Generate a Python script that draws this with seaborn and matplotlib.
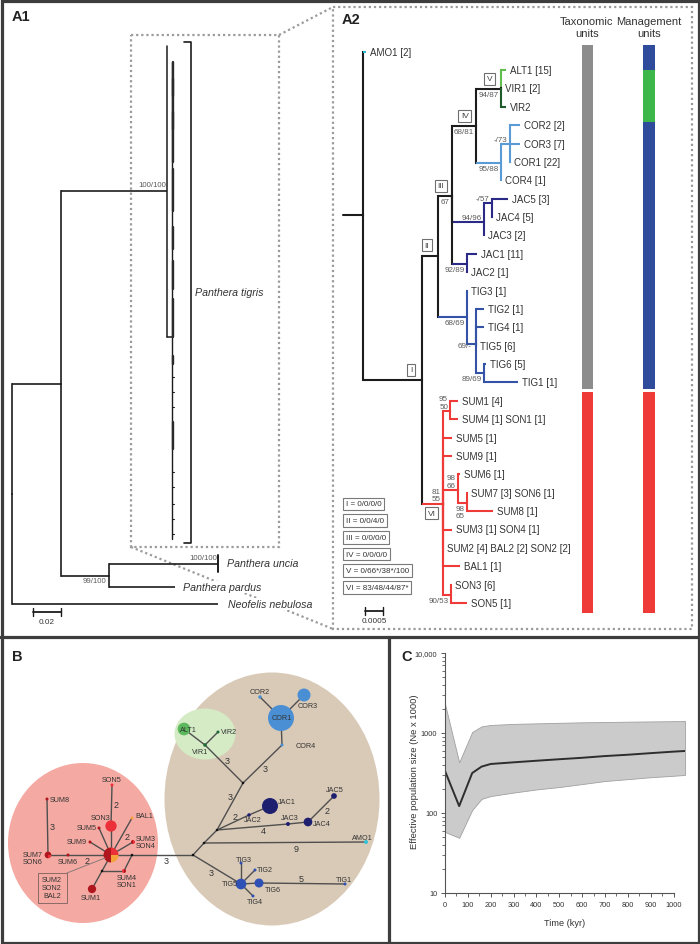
"""Tiger phylogeny figure: trees (A1, A2), haplotype network (B), Bayesian skyline (C)."""

import matplotlib

matplotlib.use("Agg")
import matplotlib.pyplot as plt
from matplotlib.patches import Circle, Ellipse, Rectangle, Wedge
from matplotlib.ticker import FixedLocator, FuncFormatter, LogLocator, NullFormatter
import pandas as pd
import seaborn as sns

W, H = 700, 945
sns.set_theme(style="ticks")
plt.rcParams["font.family"] = ["Liberation Sans", "DejaVu Sans"]

INK = "#1c1c1c"
TXT = "#333333"
SUPP = "#5a5a5a"
FRAME = "#3d3d3d"
DOT = "#9b9b9b"

# ---------------- A1: Panthera + outgroup (depth in subs/site, row = layout px) ----------------
a1_node = ["root", "panthera", "tigris", "unc_par", "uncia", "pardus", "nebulosa"]
a1_parent = [None, "root", "panthera", "panthera", "unc_par", "unc_par", "root"]
a1_depth = [0.0, 0.035, 0.1107, 0.0693, 0.147, 0.1164, 0.147]
a1_row = [495, 385, 192, 577, 565, 588, 605]
a1_species = ["Panthera tigris", "Panthera uncia", "Panthera pardus", "Neofelis nebulosa"]
a1_support = ["100/100", "100/100", "99/100"]
# collapsed tiger clade: short terminal pieces
tig_thick_y0 = [63, 80, 113, 170, 228, 262, 300, 357, 423]
tig_thick_y1 = [97, 130, 163, 212, 250, 290, 338, 365, 450]
tig_tick_y = [378, 393, 408, 473, 488, 505, 520, 535]

# ---------------- A2: tiger mtDNA haplotype tree (depth in 1e-4 subs/site, row = leaf order) ----------------
a2_node = ["root", "AMO1", "I", "II", "III", "IV", "V", "ALT1", "VIR1", "VIR2",
           "CORn", "COR123", "COR2", "COR3", "COR1", "COR4",
           "JAC345", "JAC54", "JAC5", "JAC4", "JAC3", "JAC12", "JAC1", "JAC2",
           "TIGn", "TIG3", "TIGs", "TIG2", "TIG4", "TIG5", "TIG61", "TIG6", "TIG1",
           "VI", "SUM14", "SUM1", "SUM4", "SUM5", "SUM9", "SUM678", "SUM6", "SUM78", "SUM7", "SUM8",
           "SUM3", "SUM2", "BAL1", "SON35", "SON3", "SON5"]
a2_parent = [None, "root", "root", "I", "II", "III", "IV", "V", "V", "V",
             "IV", "CORn", "COR123", "COR123", "COR123", "CORn",
             "III", "JAC345", "JAC54", "JAC54", "JAC345", "III", "JAC12", "JAC12",
             "II", "TIGn", "TIGn", "TIGs", "TIGs", "TIGs", "TIGs", "TIG61", "TIG61",
             "I", "VI", "SUM14", "SUM14", "VI", "VI", "VI", "SUM678", "SUM678", "SUM78", "SUM78",
             "VI", "VI", "VI", "VI", "SON35", "SON35"]
a2_depth = [0.0, 0.8, 16.4, 20.8, 24.7, 31.4, 38.3, 39.7, 38.3, 39.7,
            38.3, 40.8, 43.6, 43.6, 40.8, 38.3,
            33.6, 35.8, 40.3, 35.8, 33.6, 28.9, 31.7, 28.9,
            28.9, 28.9, 31.4, 33.6, 33.6, 31.4, 33.6, 34.2, 43.1,
            22.2, 24.2, 26.4, 26.4, 24.7, 24.7, 26.4, 26.9, 28.9, 28.9, 36.1,
            24.7, 22.2, 26.9, 24.4, 24.4, 28.9]
a2_row = [7.9, -1, 16.87, 10.1, 6.86, 3.05, 1.03, 0, 1, 2,
          5.06, 4.03, 3, 4, 5, 6,
          8.27, 7.24, 7, 8, 9, 10.55, 10, 11,
          13.44, 12, 14.9, 13, 14, 15, 16.49, 16, 17,
          23.6, 18.55, 18, 19, 20, 21, 22.85, 22, 23.56, 23, 24,
          25, 26, 27, 28.56, 28, 29]
a2_clade = ["bb", "AMO", "bb", "bb", "bb", "bb", "bb", "ALT", "VIR", "VIR",
            "COR", "COR", "COR", "COR", "COR", "COR",
            "JAC", "JAC", "JAC", "JAC", "JAC", "JAC", "JAC", "JAC",
            "TIG", "TIG", "TIG", "TIG", "TIG", "TIG", "TIG", "TIG", "TIG",
            "SUM", "SUM", "SUM", "SUM", "SUM", "SUM", "SUM", "SUM", "SUM", "SUM", "SUM",
            "SUM", "SUM", "SUM", "SUM", "SUM", "SUM"]
a2_tip = ["AMO1", "ALT1", "VIR1", "VIR2", "COR2", "COR3", "COR1", "COR4", "JAC5", "JAC4", "JAC3",
          "JAC1", "JAC2", "TIG3", "TIG2", "TIG4", "TIG5", "TIG6", "TIG1", "SUM1", "SUM4", "SUM5",
          "SUM9", "SUM6", "SUM7", "SUM8", "SUM3", "SUM2", "BAL1", "SON3", "SON5"]
a2_tip_text = ["AMO1 [2]", "ALT1 [15]", "VIR1 [2]", "VIR2", "COR2 [2]", "COR3 [7]", "COR1 [22]",
               "COR4 [1]", "JAC5 [3]", "JAC4 [5]", "JAC3 [2]", "JAC1 [11]", "JAC2 [1]", "TIG3 [1]",
               "TIG2 [1]", "TIG4 [1]", "TIG5 [6]", "TIG6 [5]", "TIG1 [1]", "SUM1 [4]",
               "SUM4 [1] SON1 [1]", "SUM5 [1]", "SUM9 [1]", "SUM6 [1]", "SUM7 [3] SON6 [1]",
               "SUM8 [1]", "SUM3 [1] SON4 [1]", "SUM2 [4] BAL2 [2] SON2 [2]", "BAL1 [1]",
               "SON3 [6]", "SON5 [1]"]
a2_supp_node = ["V", "IV", "CORn", "COR123", "III", "JAC345", "JAC54", "JAC12", "TIGn", "TIGs",
                "TIG61", "SUM14", "SUM678", "SUM78", "VI", "SON35"]
a2_supp_text = ["94/87", "68/81", "95/88", "-/73", "67", "94/96", "-/57", "92/89", "68/69", "69/-",
                "89/69", "95\n50", "98\n66", "98\n65", "81\n55", "90/53"]
a2_supp_side = ["below", "below", "below", "above", "below", "above", "above", "below", "below", "mid",
                "below", "above", "above", "below", "above", "below"]
a2_box_node = ["I", "II", "III", "IV", "V", "VI"]
a2_legend = ["I = 0/0/0/0", "II = 0/0/4/0", "III = 0/0/0/0", "IV = 0/0/0/0",
             "V = 0/66*/38*/100", "VI = 83/48/44/87*"]

tax_unit_start = [-1.36, 17.52]
tax_unit_end = [17.36, 29.54]
tax_unit_color = ["#8c8c8c", "#ee3b37"]
mgmt_unit_start = [-1.36, 0.0, 2.83, 17.52]
mgmt_unit_end = [0.0, 2.83, 17.36, 29.54]
mgmt_unit_color = ["#2e4b9c", "#3db64a", "#2e4b9c", "#ee3b37"]

CLADE_COL = {"bb": INK, "AMO": "#2ab7d3", "ALT": "#62bd4f", "VIR": "#1f5a2c",
             "COR": "#5b9bd5", "JAC": "#2b2a86", "TIG": "#3553a6", "SUM": "#ee3b37"}

# ---------------- B: median-joining haplotype network (layout px) ----------------
net_name = ["hub", "SON5", "SON3", "BAL1", "SUM5", "SUM9", "SUM3/SON4", "SUM6", "SUM7/SON6", "SUM8",
            "m1", "SUM4/SON1", "m2", "SUM1", "N0", "N1", "AMO1", "N2", "JAC2", "JAC1", "JAC3", "JAC4",
            "JAC5", "N3", "VIR1", "ALT1", "VIR2", "COR4", "COR1", "COR2", "COR3",
            "TIG5", "TIG3", "TIG2", "TIG4", "TIG6", "TIG1"]
net_x = [111, 112, 111, 132, 99, 90, 133, 68, 48, 47, 132, 124, 102, 92, 193, 204, 366, 217, 249, 270,
         288, 308, 334, 243, 205, 184, 218, 282, 281, 260, 304, 241, 241, 255, 253, 259, 345]
net_y = [856, 786, 827, 819, 829, 843, 843, 856, 856, 800, 856, 872, 872, 890, 856, 844, 843, 831, 816,
         807, 825, 823, 797, 784, 746, 730, 733, 746, 719, 698, 696, 885, 864, 871, 897, 884, 885]
net_diam = [15, 3, 11.3, 3, 3, 3, 4, 3, 6.7, 3, 2.5, 4, 2.5, 8.3, 2.5, 2.5, 4, 2.5, 3.5, 16, 4, 8.7,
            5.7, 2.5, 3.5, 12.7, 3, 3, 26, 3.5, 13, 10.7, 3, 3, 3, 9, 3]
net_mix = [[("SUM", 4), ("SON", 2), ("BAL", 2)], [("SON", 1)], [("SON", 6)], [("BAL", 1)],
           [("SUM", 1)], [("SUM", 1)], [("SUM", 1), ("SON", 1)], [("SUM", 1)],
           [("SUM", 3), ("SON", 1)], [("SUM", 1)], [("med", 1)], [("SON", 1), ("SUM", 1)],
           [("med", 1)], [("SUM", 4)], [("med", 1)], [("med", 1)], [("AMO", 2)], [("med", 1)],
           [("JAC", 1)], [("JAC", 11)], [("JAC", 2)], [("JAC", 5)], [("JAC", 3)], [("med", 1)],
           [("VIR", 2)], [("ALT", 15)], [("VIR", 1)], [("COR", 1)], [("COR", 22)], [("COR", 2)],
           [("COR", 7)], [("TIG", 6)], [("TIG", 1)], [("TIG", 1)], [("TIG", 1)], [("TIG", 5)],
           [("TIG", 1)]]
net_edge_a = ["SON5", "SON3", "BAL1", "SUM5", "SUM9", "SUM3/SON4", "SUM6", "SUM7/SON6", "SUM8", "hub",
              "m1", "SUM4/SON1", "m2", "m2", "m1", "N0", "N1", "N1", "N2", "JAC2", "N2", "JAC3",
              "JAC4", "N2", "N3", "VIR1", "VIR1", "N3", "COR4", "COR1", "COR1",
              "N0", "TIG5", "TIG5", "TIG5", "TIG5", "TIG6"]
net_edge_b = ["SON3", "hub", "hub", "hub", "hub", "hub", "hub", "SUM6", "SUM7/SON6", "m1",
              "SUM4/SON1", "m2", "hub", "SUM1", "N0", "N1", "AMO1", "N2", "JAC2", "JAC1", "JAC3", "JAC4",
              "JAC5", "N3", "VIR1", "ALT1", "VIR2", "COR4", "COR1", "COR2", "COR3",
              "TIG5", "TIG3", "TIG2", "TIG4", "TIG6", "TIG1"]
net_step = ["2", "", "2", "", "", "", "2", "", "3", "", "", "", "", "", "3", "", "9", "", "2", "",
            "4", "", "2", "3", "3", "", "", "3", "", "", "", "3", "", "", "", "", "5"]
net_step_x = [116, 0, 127, 0, 0, 0, 87, 0, 52, 0, 0, 0, 0, 0, 166, 0, 296, 0, 235, 0, 263, 0, 327,
              230, 227, 0, 0, 265, 0, 0, 0, 211, 0, 0, 0, 0, 301]
net_step_y = [806, 0, 837, 0, 0, 0, 862, 0, 827, 0, 0, 0, 0, 0, 861, 0, 849, 0, 818, 0, 832, 0, 812,
              798, 762, 0, 0, 770, 0, 0, 0, 873, 0, 0, 0, 0, 879]
net_label = ["SON5", "SUM8", "SON3", "BAL1", "SUM5", "SUM9", "SUM3\nSON4", "SUM7\nSON6", "SUM6",
             "SUM4\nSON1", "SUM1", "COR2", "COR3", "COR1", "COR4", "ALT1", "VIR2", "VIR1", "JAC1",
             "JAC2", "JAC3", "JAC4", "JAC5", "AMO1", "TIG3", "TIG2", "TIG5", "TIG6", "TIG4", "TIG1"]
net_label_x = [112, 50, 110, 135, 97, 87, 136, 43, 68, 127, 91, 260, 308, 282, 306, 188, 221, 200,
               278, 253, 290, 313, 335, 362, 244, 257, 238, 265, 255, 344]
net_label_y = [781, 800, 819, 817, 829, 843, 843, 859, 862, 882, 898, 693, 706, 719, 747, 730, 733,
               753, 802, 821, 819, 824, 790, 838, 861, 870, 884, 890, 903, 880]
net_label_ha = ["center", "left", "right", "left", "right", "right", "left", "right", "center",
                "center", "center", "center", "center", "center", "center", "center", "left", "center",
                "left", "center", "center", "left", "center", "center", "center", "left", "right",
                "left", "center", "center"]
POP_COL = {"SUM": "#b0161e", "SON": "#ec3039", "BAL": "#f6a23a", "ALT": "#5cb85c", "VIR": "#1d6b35",
           "COR": "#4a8fd4", "JAC": "#1f1f70", "TIG": "#2f50b5", "AMO": "#33c3d9", "med": "#111111"}

# ---------------- C: Bayesian skyline ----------------
c_time = [0, 62, 119, 160, 200, 300, 400, 500, 600, 700, 800, 900, 1000, 1050]
c_median = [335, 122, 316, 380, 410, 430, 450, 470, 490, 515, 535, 560, 585, 596]
c_upper = [2300, 430, 1030, 1210, 1260, 1300, 1320, 1340, 1360, 1370, 1385, 1395, 1405, 1410]
c_lower = [58, 49, 109, 150, 163, 180, 197, 211, 230, 251, 265, 280, 292, 299]


def px_axes(fig, x0, y0, x1, y1):
    ax = fig.add_axes([x0 / W, 1 - y1 / H, (x1 - x0) / W, (y1 - y0) / H])
    ax.set_facecolor("none")
    return ax


def draw_elbows(ax, names, parents, depth, row, vcol, hcol, lw):
    pos = {n: (d, r) for n, d, r in zip(names, depth, row)}
    for n, p, vc, hc in zip(names, parents, vcol, hcol):
        if p is None:
            continue
        dp, rp = pos[p]
        dc, rc = pos[n]
        ax.plot([dp, dp], [rp, rc], color=vc, lw=lw, solid_capstyle="projecting")
        ax.plot([dp, dc], [rc, rc], color=hc, lw=lw, solid_capstyle="butt")


def skyline_tick(v, _):
    return "10,000" if v >= 10000 else f"{v:.0f}"


fig = plt.figure(figsize=(W / 100, H / 100), dpi=100)

# ---- background canvas (pixel coordinates) ----
canvas = px_axes(fig, 0, 0, W, H)
canvas.set_xlim(0, W)
canvas.set_ylim(H, 0)
canvas.axis("off")

dot_kw = dict(color=DOT, lw=1.6, ls=(0, (1, 1.3)))
canvas.add_patch(Rectangle((131, 36), 148, 512, fill=False, ec=DOT, lw=1.6, ls=(0, (1, 1.3))))
canvas.add_patch(Rectangle((333, 8), 359, 622, fill=False, ec=DOT, lw=1.6, ls=(0, (1, 1.3))))
canvas.plot([279, 333], [36, 8], **dot_kw)
canvas.plot([131, 333], [548, 630], **dot_kw)

# A2 headers and node-support legend
canvas.text(587, 28, "Taxonomic\nunits", ha="center", va="center", fontsize=8, color=TXT, linespacing=1.2)
canvas.text(649, 28, "Management\nunits", ha="center", va="center", fontsize=8, color=TXT, linespacing=1.2)
for i, txt in enumerate(a2_legend):
    canvas.text(346, 505 + i * 16.7, txt, ha="left", va="center", fontsize=5.8, color=TXT,
                bbox=dict(boxstyle="square,pad=0.35", fc="white", ec="#7a7a7a", lw=0.8))

# ---- B: network ----
canvas.add_patch(Ellipse((272, 800), 215, 253, fc="#d9cab7", ec="none"))
canvas.add_patch(Ellipse((83, 844), 150, 160, fc="#f4aaa2", ec="none"))
canvas.add_patch(Ellipse((205, 735), 61, 51, fc="#d5ebc6", ec="none"))
npos = {n: (x, y) for n, x, y in zip(net_name, net_x, net_y)}
for a, b in zip(net_edge_a, net_edge_b):
    canvas.plot([npos[a][0], npos[b][0]], [npos[a][1], npos[b][1]], color="#4f4f4f", lw=1.0, zorder=2)
for s, x, y in zip(net_step, net_step_x, net_step_y):
    if s:
        canvas.text(x, y, s, ha="center", va="center", fontsize=6.5, color=TXT, zorder=4)
for n, x, y, d, mix in zip(net_name, net_x, net_y, net_diam, net_mix):
    total = sum(c for _, c in mix)
    start = 90.0
    if len(mix) == 1:
        canvas.add_patch(Circle((x, y), d / 2, fc=POP_COL[mix[0][0]], ec="none", zorder=3))
        continue
    for pop, c in mix:
        sweep = 360.0 * c / total
        canvas.add_patch(Wedge((x, y), d / 2, start, start + sweep, fc=POP_COL[pop], ec="none", zorder=3))
        start += sweep
for t, x, y, ha in zip(net_label, net_label_x, net_label_y, net_label_ha):
    canvas.text(x, y, t, ha=ha, va="center", fontsize=5.2, color=TXT, linespacing=1.15, zorder=4)
canvas.add_patch(Rectangle((38, 874), 29, 30, fill=False, ec="#8a6a66", lw=0.7, zorder=4))
canvas.text(52, 889, "SUM2\nSON2\nBAL2", ha="center", va="center", fontsize=5.2, color=TXT,
            linespacing=1.2, zorder=4)
canvas.plot([67, 105], [874, 859], color="#8a7a78", lw=0.7, zorder=4)

# ---- A1 tree ----
ax1 = px_axes(fig, 0, 0, 333, 638)
ax1.set_xlim(-12 / 1400, 321 / 1400)
ax1.set_ylim(638, 0)
ax1.axis("off")
draw_elbows(ax1, a1_node, a1_parent, a1_depth, a1_row, [INK] * 7, [INK] * 7, 1.2)
d_tig = a1_depth[2]
ax1.plot([d_tig, d_tig], [47, 338], color=INK, lw=1.1)
ax1.plot([d_tig, 0.1143], [338, 338], color=INK, lw=1.1)
ax1.plot([0.1143, 0.1143], [63, 540], color=INK, lw=1.0)
for y0, y1 in zip(tig_thick_y0, tig_thick_y1):
    ax1.plot([0.1153, 0.1153], [y0, y1], color="#2a2a2a", lw=1.7)
for y in tig_tick_y:
    ax1.plot([0.1143, 0.116], [y, y], color=INK, lw=0.8)
# tiger clade bracket and uncia collapsed tip
ax1.plot([0.1229, 0.1279, 0.1279, 0.1229], [43, 43, 544, 544], color=INK, lw=1.2)
ax1.plot([0.147, 0.147], [556, 573], color=INK, lw=1.4)
sp_style = dict(fontsize=7.7, style="italic", color=TXT, va="center", ha="left",
                bbox=dict(boxstyle="square,pad=0.1", fc="white", ec="none"))
ax1.text(0.1279 + 4 / 1400, 293, a1_species[0], **sp_style)
ax1.text(0.147 + 9 / 1400, 564, a1_species[1], **sp_style)
ax1.text(0.1164 + 8 / 1400, 588, a1_species[2], **sp_style)
ax1.text(0.147 + 10 / 1400, 605, a1_species[3], **sp_style)
ax1.text(d_tig - 1 / 1400, 189, a1_support[0], ha="right", va="bottom", fontsize=5.6, color=SUPP)
ax1.text(0.147 - 1 / 1400, 562, a1_support[1], ha="right", va="bottom", fontsize=5.6, color=SUPP)
ax1.text(a1_depth[3] - 3 / 1400, 582, a1_support[2], ha="right", va="center", fontsize=5.6, color=SUPP)
ax1.plot([0.015, 0.035], [613, 613], color=INK, lw=1.3)
ax1.plot([0.015, 0.015], [609, 617], color=INK, lw=1.0)
ax1.plot([0.035, 0.035], [609, 617], color=INK, lw=1.0)
ax1.text(0.025, 619, "0.02", ha="center", va="top", fontsize=5.9, color=TXT)

# ---- A2 tree ----
ax2 = px_axes(fig, 333, 0, 700, 638)
ax2.set_xlim(-30 / 3.6, 337 / 3.6)
ax2.set_ylim(567 / 18.38, -71 / 18.38)
ax2.axis("off")
par_clade = {n: c for n, c in zip(a2_node, a2_clade)}
vcol = []
for n, p, c in zip(a2_node, a2_parent, a2_clade):
    if n in ("ALT1", "VIR2"):
        vcol.append(CLADE_COL[c])
    else:
        vcol.append(CLADE_COL[par_clade[p]] if p else INK)
hcol = [CLADE_COL[c] for c in a2_clade]
draw_elbows(ax2, a2_node, a2_parent, a2_depth, a2_row, vcol, hcol, 1.5)
ax2.plot([-5.5, 0], [a2_row[0], a2_row[0]], color=INK, lw=1.5)
a2_pos = {n: (d, r) for n, d, r in zip(a2_node, a2_depth, a2_row)}
for n, t in zip(a2_tip, a2_tip_text):
    d, r = a2_pos[n]
    ax2.text(d + 1.1, r, t, ha="left", va="center", fontsize=7, color=TXT)
for n, t, side in zip(a2_supp_node, a2_supp_text, a2_supp_side):
    d, r = a2_pos[n]
    off = {"below": (-1.5, -1.2), "above": (-1.5, 1.0), "mid": (-3.0, -1.0)}[side]
    va = {"below": "top", "above": "bottom", "mid": "center"}[side]
    ax2.annotate(t, (d, r), xytext=off, textcoords="offset points", ha="right", va=va,
                 fontsize=5.8, color=SUPP, linespacing=1.15)
for n in a2_box_node:
    d, r = a2_pos[n]
    off = (-8, -7) if n == "VI" else (-8, 7.5)
    ax2.annotate(n, (d, r), xytext=off, textcoords="offset points", ha="center", va="center",
                 fontsize=6, color="#444444",
                 bbox=dict(boxstyle="square,pad=0.3", fc="white", ec="#6f6f6f", lw=0.8))
ax2.bar([62.35] * 2, [e - s for s, e in zip(tax_unit_start, tax_unit_end)], bottom=tax_unit_start,
        width=3.1, color=tax_unit_color, linewidth=0)
ax2.bar([79.45] * 4, [e - s for s, e in zip(mgmt_unit_start, mgmt_unit_end)], bottom=mgmt_unit_start,
        width=3.3, color=mgmt_unit_color, linewidth=0)
sb_row = (612 - 71) / 18.38
ax2.plot([0.56, 5.56], [sb_row, sb_row], color=INK, lw=1.3)
ax2.plot([0.56, 0.56], [sb_row - 0.2, sb_row + 0.2], color=INK, lw=1.0)
ax2.plot([5.56, 5.56], [sb_row - 0.2, sb_row + 0.2], color=INK, lw=1.0)
ax2.text(3.06, sb_row + 0.35, "0.0005", ha="center", va="top", fontsize=5.9, color=TXT)

# ---- C: skyline ----
axc = px_axes(fig, 445, 654, 685, 894)
sky = pd.DataFrame({"time": c_time, "ne": c_median})
axc.fill_between(c_time, c_lower, c_upper, color="#cbcbcb", ec="#a0a0a0", lw=0.6)
sns.lineplot(data=sky, x="time", y="ne", ax=axc, color="#2e2e2e", lw=1.4)
axc.set_yscale("log")
axc.set_ylim(10, 10000)
axc.set_xlim(0, 1050)
sns.despine(ax=axc)
for s in ("left", "bottom"):
    axc.spines[s].set_color("#555555")
    axc.spines[s].set_linewidth(0.8)
axc.spines["bottom"].set_bounds(0, 1000)
axc.xaxis.set_major_locator(FixedLocator(range(0, 1001, 100)))
axc.xaxis.set_minor_locator(FixedLocator(range(50, 1001, 100)))
axc.yaxis.set_major_locator(FixedLocator([10, 100, 1000, 10000]))
axc.yaxis.set_minor_locator(LogLocator(base=10, subs=range(2, 10)))
axc.yaxis.set_minor_formatter(NullFormatter())
axc.yaxis.set_major_formatter(FuncFormatter(skyline_tick))
axc.tick_params(which="major", length=3, width=0.7, color="#555555", labelsize=5.3,
                labelcolor=TXT, pad=2.5)
axc.tick_params(which="minor", length=2, width=0.6, color="#555555")
axc.set_xlabel("Time (kyr)", fontsize=6.6, color=TXT)
axc.set_ylabel("Effective population size (Ne x 1000)", fontsize=6.8, color=TXT)
axc.xaxis.set_label_coords(0.5, -0.105)
axc.yaxis.set_label_coords(-0.11, 0.508)

# ---- frame, dividers and panel letters ----
top = px_axes(fig, 0, 0, W, H)
top.set_xlim(0, W)
top.set_ylim(H, 0)
top.axis("off")
top.add_patch(Rectangle((1.5, 1.5), W - 3, H - 3, fill=False, ec=FRAME, lw=2.3))
top.plot([0, W], [638, 638], color=FRAME, lw=2.3)
top.plot([389, 389], [638, H], color=FRAME, lw=2.3)
for lab, x, y in [("A1", 12, 17), ("A2", 342, 20), ("B", 12, 657), ("C", 401, 657)]:
    top.text(x, y, lab, ha="left", va="center", fontsize=10.5, fontweight="bold", color="#222222")

fig.savefig("out.png", dpi=100)
